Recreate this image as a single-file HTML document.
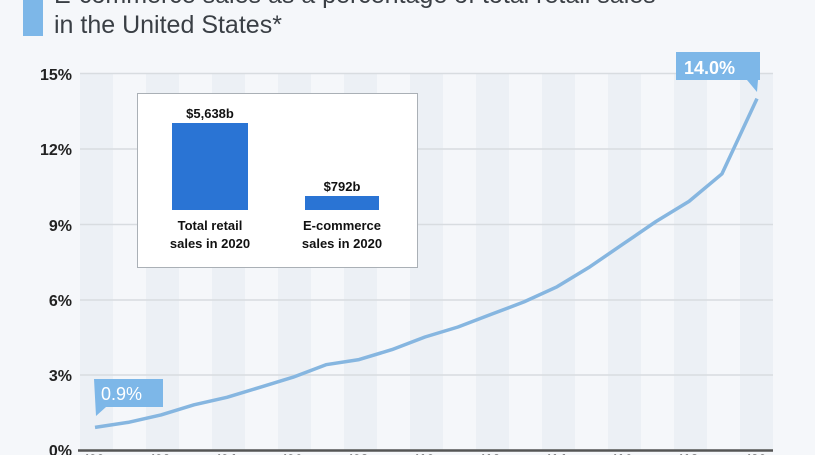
<!DOCTYPE html>
<html><head><meta charset="utf-8"><style>
body{margin:0;background:#f5f7fa;}
svg{display:block;font-family:"Liberation Sans",sans-serif;}
</style></head><body>
<svg width="815" height="455" viewBox="0 0 815 455">
<rect width="815" height="455" fill="#f5f7fa"/>
<rect x="23" y="0" width="20" height="36" fill="#7db7e8"/>
<text x="54" y="3" font-size="25" fill="#3a3f45">E-commerce sales as a percentage of total retail sales</text>
<text x="54" y="33" font-size="25" fill="#3a3f45">in the United States*</text>
<g fill="#ecf0f5">
<rect x="80" y="73" width="33" height="377"/>
<rect x="146" y="73" width="33" height="377"/>
<rect x="212" y="73" width="33" height="377"/>
<rect x="278" y="73" width="33" height="377"/>
<rect x="344" y="73" width="33" height="377"/>
<rect x="410" y="73" width="33" height="377"/>
<rect x="476" y="73" width="33" height="377"/>
<rect x="542" y="73" width="33" height="377"/>
<rect x="608" y="73" width="33" height="377"/>
<rect x="674" y="73" width="33" height="377"/>
<rect x="740" y="73" width="33" height="377"/>
</g>
<g stroke="#d8dce0" stroke-width="1.5">
<line x1="80" y1="73.5" x2="773" y2="73.5"/>
<line x1="80" y1="149" x2="773" y2="149"/>
<line x1="80" y1="224.5" x2="773" y2="224.5"/>
<line x1="80" y1="300" x2="773" y2="300"/>
<line x1="80" y1="375" x2="773" y2="375"/>
</g>
<line x1="78" y1="450.5" x2="773" y2="450.5" stroke="#555" stroke-width="2.5"/>
<g font-size="16" fill="#222" text-anchor="end" font-weight="bold">
<text x="72" y="80">15%</text>
<text x="72" y="155">12%</text>
<text x="72" y="231">9%</text>
<text x="72" y="306">6%</text>
<text x="72" y="381">3%</text>
<text x="72" y="456">0%</text>
</g>
<polyline fill="none" stroke="#86b6e0" stroke-width="3.5" stroke-linejoin="round"
points="95,427.4 128,422.4 161,414.9 194,404.8 227,397.3 260,387.3 293,377.2 326,364.7 359,359.6 392,349.6 425,337.0 458,327.0 491,314.4 524,301.9 557,286.8 590,266.7 623,244.1 656,221.5 689,201.4 722,173.8 757,98.6"/>
<path d="M94,379 H163 V407 H106 L96,416 Z" fill="#7db7e8"/>
<text x="101" y="400" font-size="18" fill="#fff">0.9%</text>
<path d="M676,52 H760 V80 H758 L757,92 L747,80 H676 Z" fill="#7db7e8"/>
<text x="684" y="74" font-size="18" fill="#fff" font-weight="bold">14.0%</text>
<rect x="137.5" y="93.5" width="280" height="174" fill="#fff" stroke="#aab0b6" stroke-width="1"/>
<rect x="172" y="123" width="76" height="87" fill="#2a74d4"/>
<rect x="305" y="196" width="74" height="14" fill="#2a74d4"/>
<g font-size="13" fill="#111" text-anchor="middle" font-weight="bold">
<text x="210" y="118">$5,638b</text>
<text x="342" y="191">$792b</text>
<text x="210" y="230">Total retail</text>
<text x="210" y="248">sales in 2020</text>
<text x="342" y="230">E-commerce</text>
<text x="342" y="248">sales in 2020</text>
</g>
<g font-size="14" fill="#222" text-anchor="middle" font-weight="bold">
<text x="95" y="464">'00</text><text x="161" y="464">'02</text><text x="227" y="464">'04</text>
<text x="293" y="464">'06</text><text x="359" y="464">'08</text><text x="425" y="464">'10</text>
<text x="491" y="464">'12</text><text x="557" y="464">'14</text><text x="623" y="464">'16</text>
<text x="689" y="464">'18</text><text x="757" y="464">'20</text>
</g>
</svg>
</body></html>
